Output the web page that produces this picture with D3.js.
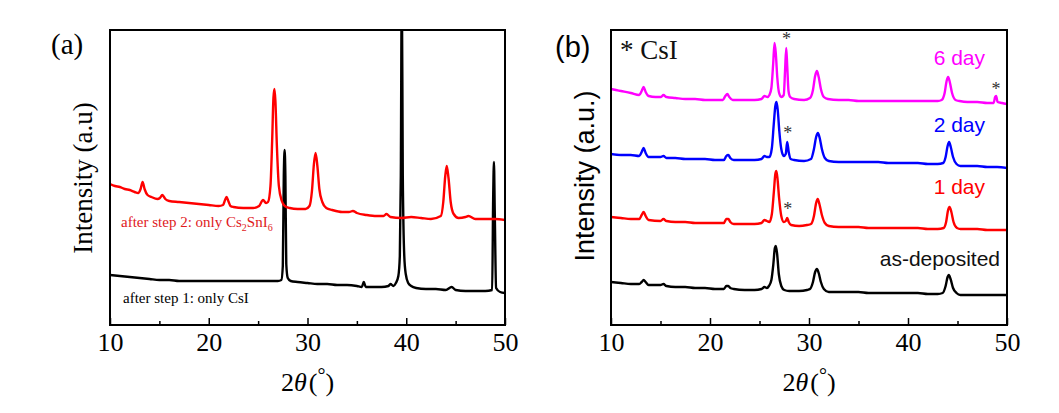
<!DOCTYPE html>
<html><head><meta charset="utf-8">
<script src="https://cdn.jsdelivr.net/npm/d3@7"></script>
<style>body{margin:0;background:#fff;} svg{display:block}</style>
</head><body><svg id="c" width="1059" height="413"></svg>
<script>
// ---------- data ----------
const thetaTicks = [10, 20, 30, 40, 50];
const thetaMinor = [15, 25, 35, 45];

// panel (a): [2theta, intensity a.u.]
const stepTwo = [[10,142],[10.5,140],[11,139],[11.5,137],[12,136],[12.5,134],[12.85,133],[13.1,137],[13.3,144],[13.5,137],[13.8,131],[14.2,129],[14.8,127],[15.05,128],[15.3,131],[15.6,127],[16,125],[17,124],[18,123],[19,122],[20,121],[21,120],[21.45,121],[21.65,126],[21.8,129],[21.98,125],[22.2,120],[22.5,119],[23.5,118],[24.5,118],[25.1,120],[25.5,126],[25.8,123],[26.0,124],[26.25,140],[26.42,185],[26.55,228],[26.65,237],[26.75,225],[26.9,180],[27.1,140],[27.4,125],[27.7,120],[28.2,118],[29,117],[29.8,117],[30.2,120],[30.45,135],[30.65,162],[30.82,173],[31.0,160],[31.2,137],[31.5,124],[31.9,118],[32.5,116],[33.5,114],[34.2,114],[34.6,115],[35,113],[36,111],[37,110],[37.7,110],[38,112],[38.4,109],[39.5,108],[40.5,109],[41.5,108],[42.5,107],[43.5,110],[43.75,124],[43.95,150],[44.1,160],[44.28,148],[44.5,124],[44.8,112],[45.3,108],[46,109],[46.3,110],[47,107],[48,107],[49,107],[50,106]];
const stepOne = [[10,51],[11,50],[12,49],[13,48],[14,47],[15,46],[16,46],[17,45],[18,45],[19,45],[20,45],[21,45],[22,45],[23,45],[24,45],[25,45],[26,45],[27,45],[27.35,46],[27.5,60],[27.6,150],[27.68,176],[27.76,150],[27.85,62],[28.0,48],[28.3,45],[29,44],[30,43],[31,42],[32,42],[33,41],[34,41],[35,40],[35.5,39],[35.7,44],[35.9,39],[36.5,39],[37.5,39],[38.2,40],[38.4,42],[38.7,40],[38.95,43],[39.2,50],[39.35,70],[39.45,150],[39.55,346],[39.65,150],[39.8,70],[39.95,52],[40.2,43],[40.5,40],[41,38],[42,37],[43,37],[44,36],[44.6,39],[45,36],[46,35],[47,35],[48,35],[48.7,36],[48.8,126],[48.88,164],[48.96,116],[49.1,38],[49.5,34],[50,33]];

// panel (b)
const day6 = [[10,237],[10.5,236],[11,235],[12,233],[12.85,231],[13.1,235],[13.3,239],[13.5,234],[13.8,230],[14.5,229],[15.05,229],[15.3,231],[15.6,229],[16.5,228],[17.5,227],[18.5,227],[19.5,226],[20.5,226],[21.3,226],[21.55,230],[21.75,232],[21.95,229],[22.3,226],[23.5,226],[24.5,226],[25.2,227],[25.5,230],[25.8,229],[26.0,231],[26.2,238],[26.38,262],[26.52,283],[26.65,272],[26.8,248],[26.98,233],[27.2,229],[27.45,231],[27.58,255],[27.7,278],[27.8,260],[27.93,235],[28.1,229],[28.5,227],[29.5,226],[30.1,228],[30.4,236],[30.62,250],[30.8,255],[30.98,249],[31.2,237],[31.5,229],[31.9,227],[33,226],[34,226],[35,225],[36,225],[37,225],[38,225],[39,225],[40,225],[41,225],[42,225],[43,225],[43.4,226],[43.7,233],[43.9,245],[44.05,249],[44.22,244],[44.45,233],[44.8,226],[45.2,225],[46,224],[47,224],[48,223],[48.65,223],[48.8,229],[48.9,230],[49.05,224],[49.5,223],[50,222]];
const day2 = [[10,172],[11,171],[12,171],[12.85,170],[13.1,174],[13.3,178],[13.5,173],[13.8,169],[15,169],[15.3,170],[15.6,168],[16.5,168],[17.5,167],[18.5,167],[19.5,167],[20.5,166],[21.4,166],[21.65,170],[21.85,171],[22.05,168],[22.4,166],[23.5,166],[24.5,166],[25.2,167],[25.5,170],[25.75,169],[26.0,169],[26.25,178],[26.45,203],[26.6,220],[26.72,224],[26.85,215],[27.0,195],[27.2,177],[27.45,170],[27.65,172],[27.8,184],[27.95,174],[28.15,167],[28.5,166],[29.5,165],[30.2,167],[30.5,177],[30.72,189],[30.9,193],[31.08,188],[31.3,177],[31.6,168],[32.0,165],[33,164],[34,164],[35,164],[36,164],[37,164],[38,163],[39,163],[40,163],[41,163],[42,162],[43,162],[43.55,163],[43.8,169],[44.0,180],[44.15,184],[44.32,179],[44.55,169],[44.9,162],[45.3,160],[46,160],[47,160],[48,159],[49,159],[50,158]];
const day1 = [[10,109],[11,108],[12,107],[12.85,107],[13.1,111],[13.3,114],[13.5,110],[13.8,106],[15,105],[15.3,107],[15.6,105],[16.5,104],[17.5,104],[18.5,103],[19.5,103],[20.5,103],[21.4,103],[21.65,107],[21.85,107],[22.05,104],[22.4,102],[23.5,102],[24.5,102],[25.2,103],[25.5,106],[25.75,105],[26.0,104],[26.25,112],[26.45,134],[26.6,152],[26.7,155],[26.82,147],[26.98,128],[27.2,110],[27.45,104],[27.65,105],[27.8,108],[27.95,104],[28.2,101],[29,100],[29.8,101],[30.2,102],[30.5,110],[30.72,123],[30.88,127],[31.05,122],[31.3,111],[31.6,103],[32.0,100],[33,99],[34,99],[35,99],[36,98],[37,98],[38,98],[39,98],[40,98],[41,98],[42,97],[43,97],[43.6,98],[43.85,104],[44.05,116],[44.2,119],[44.38,114],[44.6,104],[44.95,98],[45.3,97],[46,97],[47,97],[48,96],[49,96],[50,96]];
const asDep = [[10,44],[11,43],[12,42],[12.85,42],[13.1,44],[13.3,46],[13.5,44],[13.8,41],[15,41],[15.3,42],[15.6,40],[16.5,39],[17.5,39],[18.5,38],[19.5,38],[20.5,37],[21.4,37],[21.65,40],[21.85,40],[22.05,38],[22.4,37],[23.5,36],[24.5,36],[25.2,37],[25.5,39],[25.75,38],[25.95,40],[26.2,46],[26.4,62],[26.55,78],[26.65,80],[26.78,72],[26.95,52],[27.2,40],[27.5,36],[28,35],[29,35],[29.8,36],[30.1,37],[30.4,44],[30.62,54],[30.8,57],[30.98,53],[31.2,44],[31.5,37],[32,34],[33,34],[34,34],[35,34],[36,33],[37,33],[38,33],[39,33],[40,33],[41,33],[42,32],[43,32],[43.5,33],[43.8,40],[44.0,49],[44.12,51],[44.3,47],[44.55,38],[44.9,33],[45.3,31],[46,31],[47,31],[48,31],[49,31],[50,31]];

// CsI peak markers for panel (b): [2theta, intensity]
const csiMarks = [[27.72, 287],[27.85, 193],[27.85, 117],[48.9, 237]];

const seriesA = [
  {name: "after step 1: only CsI", data: stepOne, color: "#000000"},
  {name: "after step 2: only Cs2SnI6", data: stepTwo, color: "#ff0000"}
];
const seriesB = [
  {name: "as-deposited", data: asDep, color: "#000000"},
  {name: "1 day", data: day1, color: "#ff0000"},
  {name: "2 day", data: day2, color: "#0000ff"},
  {name: "6 day", data: day6, color: "#ff00ff"}
];

// ---------- drawing ----------
const svg = d3.select("#c");
const TOP = 30, BOT = 325;
const serif = "'Liberation Serif','Times New Roman',serif";
const sans = "'Liberation Sans',Arial,sans-serif";

const y = d3.scaleLinear().domain([0, 296]).range([326, 30]);

function panel(id, x0, x1, series) {
  const x = d3.scaleLinear().domain([10, 50]).range([x0, x1]);
  const g = svg.append("g");
  g.append("clipPath").attr("id", "clip" + id)
    .append("rect").attr("x", x0).attr("y", TOP).attr("width", x1 - x0).attr("height", BOT - TOP);
  const line = d3.line().x(d => x(d[0])).y(d => y(d[1])).curve(d3.curveMonotoneX);
  const lg = g.append("g").attr("clip-path", `url(#clip${id})`);
  series.forEach(s => {
    lg.append("path").attr("d", line(s.data)).attr("fill", "none")
      .attr("stroke", s.color).attr("stroke-width", 2.4).attr("stroke-linejoin", "round");
  });
  // minor ticks
  g.append("g").attr("transform", `translate(0,${BOT})`)
    .call(d3.axisBottom(x).tickValues(thetaMinor).tickSizeInner(-4).tickSizeOuter(0).tickFormat(""))
    .call(a => a.select(".domain").remove())
    .selectAll("line").attr("stroke-width", 1.5);
  // major ticks
  const ax = g.append("g").attr("transform", `translate(0,${BOT})`)
    .call(d3.axisBottom(x).tickValues(thetaTicks).tickSizeInner(-7).tickSizeOuter(0).tickPadding(8).tickFormat(d3.format("d")));
  ax.select(".domain").remove();
  ax.selectAll("line").attr("stroke-width", 1.5);
  ax.selectAll("text").attr("font-family", serif).attr("font-size", 26).attr("fill", "#000");
  // frame
  g.append("rect").attr("x", x0).attr("y", TOP).attr("width", x1 - x0).attr("height", BOT - TOP)
    .attr("fill", "none").attr("stroke", "#000").attr("stroke-width", 2);
  // x title
  const t = g.append("text").attr("x", (x0 + x1) / 2).attr("y", 391).attr("text-anchor", "middle")
    .attr("font-family", serif).attr("font-size", 26).attr("fill", "#000");
  t.append("tspan").text("2");
  t.append("tspan").attr("font-style", "italic").text("θ");
  t.append("tspan").attr("dx", 2).text("(");
  t.append("tspan").attr("font-size", 20).attr("dy", -9).text("°");
  t.append("tspan").attr("dy", 9).text(")");
  return x;
}

const xa = panel("a", 110, 505, seriesA);
const xb = panel("b", 611, 1007, seriesB);

// panel (a) annotations
svg.append("text").attr("x", 51).attr("y", 54).attr("font-family", serif).attr("font-size", 29).text("(a)");
svg.append("text").attr("transform", "translate(92,178) rotate(-90)").attr("text-anchor", "middle")
  .attr("font-family", serif).attr("font-size", 27).text("Intensity (a.u)");
const lab2 = svg.append("text").attr("x", 121).attr("y", 227).attr("font-family", serif)
  .attr("font-size", 15).attr("fill", "#e0191c");
lab2.append("tspan").text("after step 2: only Cs");
lab2.append("tspan").attr("font-size", 10).attr("dy", 4).text("2");
lab2.append("tspan").attr("dy", -4).text("SnI");
lab2.append("tspan").attr("font-size", 10).attr("dy", 4).text("6");
svg.append("text").attr("x", 123).attr("y", 303).attr("font-family", serif)
  .attr("font-size", 15).attr("fill", "#000").text(seriesA[0].name);

// panel (b) annotations
svg.append("text").attr("x", 555).attr("y", 57).attr("font-family", sans).attr("font-size", 29).text("(b)");
svg.append("text").attr("transform", "translate(594,176) rotate(-90)").attr("text-anchor", "middle")
  .attr("font-family", sans).attr("font-size", 27).text("Intensity (a.u.)");
svg.append("text").attr("x", 620).attr("y", 59).attr("font-family", serif).attr("font-size", 27)
  .attr("fill", "#111").text("* CsI");

const dayLabelPos = [
  {s: seriesB[3], x: 985, yv: 261},
  {s: seriesB[2], x: 985, yv: 194},
  {s: seriesB[1], x: 985, yv: 132},
  {s: seriesB[0], x: 1000, yv: 60}
];
dayLabelPos.forEach(p => {
  svg.append("text").attr("x", p.x).attr("y", y(p.yv)).attr("text-anchor", "end")
    .attr("font-family", sans).attr("font-size", 21)
    .attr("fill", p.s.color === "#000000" ? "#111" : p.s.color).text(p.s.name);
});

svg.selectAll(".csi").data(csiMarks).join("text").attr("class", "csi")
  .attr("x", d => xb(d[0])).attr("y", d => y(d[1]) + 6).attr("text-anchor", "middle")
  .attr("font-family", serif).attr("font-size", 18).attr("fill", "#333").text("*");
</script>
</body></html>
